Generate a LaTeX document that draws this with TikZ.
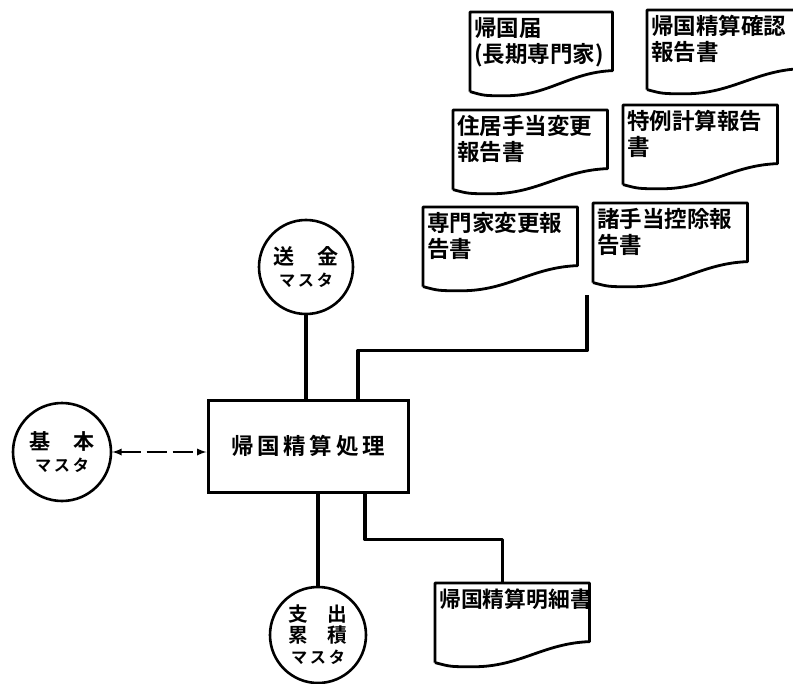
\documentclass[tikz,border=0pt]{standalone}
\usepackage{fontspec}
\newfontfamily\cjk{Noto Sans CJK JP}[BoldFont={Noto Sans CJK JP Bold}]
\usetikzlibrary{arrows,arrows.meta,calc}

\tikzset{
   wire/.style = {line width=0.8mm, line join=round},
   access/.style = {latex-latex, line width=0.45mm, dash pattern=on 5mm off 1.5mm},
   master/.style = {circle, draw, line width=0.65mm, align=center, inner sep=0mm,
                    font=\cjk\bfseries\fontsize{15}{18}\selectfont},
   report/.style = {rectangle, anchor=north west, inner xsep=1mm, inner ysep=1.2mm,
                    text width=#1, text height=4.8mm, text depth=13.6mm, align=left,
                    font=\cjk\bfseries\fontsize{16}{19}\selectfont},
   report/.default = 36.5mm,
   docline/.style = {line width=0.7mm, line join=round},
}

% outline of a printed report: straight top and sides, torn wavy bottom
\newcommand{\docframe}[1]{%
  \draw[docline] let \p1=(#1.north west), \p2=(#1.south east),
                     \n1={\x2-\x1}, \n2={\y1-\y2} in
    (\x1,\y2+0.05*\n2) -- (\x1,\y1) -- (\x2,\y1) -- (\x2,\y1-0.7*\n2)
    .. controls (\x1+0.7*\n1,\y1-0.72*\n2) and (\x1+0.55*\n1,\y2) .. (\x1+0.25*\n1,\y2)
    .. controls (\x1+0.1*\n1,\y2) .. (\x1,\y2+0.05*\n2);
}

\begin{document}
\begin{tikzpicture}

      \useasboundingbox (0,0) rectangle (198.25mm,170.75mm);
      \clip (0,0) rectangle (198.25mm,170.75mm);

      % processing step
      \node[
         rectangle,
         draw,
         line width = 0.75mm,
         minimum height=23mm,
         minimum width=50mm,
         font=\cjk\bfseries\fontsize{16}{18}\selectfont,
      ] (kikoku) at (77mm,59.25mm){帰\,国\,精\,算\,処\,理};

      % master files
      \node[master, minimum size=23.5mm] (sokin) at (76.5mm,104mm)
         {送\hspace{1.1em}金\\[-1mm]{\fontsize{11.5}{14}\selectfont マ\,ス\,タ}};
      \node[master, minimum size=24.5mm] (kihon) at (15.5mm,57.75mm)
         {基\hspace{1.1em}本\\[-1mm]{\fontsize{11.5}{14}\selectfont マ\,ス\,タ}};
      \node[master, minimum size=24mm, font=\cjk\bfseries\fontsize{14}{15}\selectfont]
         (shishutsu) at (79.5mm,12mm)
         {支\hspace{1em}出\\累\hspace{1em}積\\{\fontsize{11.5}{14}\selectfont マ\,ス\,タ}};

      % reports
      \node[report=33.5mm] (todoke)   at (117.5mm,167.75mm) {帰国届\\(長期専門家)};
      \node[report]        (kakunin)  at (161.75mm,168.25mm) {帰国精算確認\\報告書};
      \node[report]        (jukyo)    at (113.25mm,143.25mm) {住居手当変更\\報告書};
      \node[report]        (tokurei)  at (155.75mm,144.5mm) {特例計算報告\\書};
      \node[report]        (senmonka) at (105.75mm,119mm) {専門家変更報\\告書};
      \node[report]        (shoteate) at (148.25mm,120mm) {諸手当控除報\\告書};
      \node[report, font=\cjk\bfseries\fontsize{15.5}{19}\selectfont]
                           (meisai)   at (108.75mm,25mm) {帰国精算明細書};

      \docframe{todoke}
      \docframe{kakunin}
      \docframe{jukyo}
      \docframe{tokurei}
      \docframe{senmonka}
      \docframe{shoteate}
      \docframe{meisai}

      \coordinate (feed) at ($(shoteate.south west)+(-1.5mm,-2mm)$);

      \draw[wire]   (sokin.south) -- (sokin.south |- kikoku.north);
      \draw[access] (kihon.east) -- (kihon.east -| kikoku.west);
      \draw[wire]   (shishutsu.north) -- (shishutsu.north |- kikoku.south);
      \draw[wire]   ([xshift=12.5mm]kikoku.north) -- ++(0,12mm) -| (feed);
      \draw[wire]   ([xshift=14.25mm]kikoku.south) -- ++(0,-11.5mm) -| ([xshift=-2.5mm]meisai.north);

\end{tikzpicture}
\end{document}
